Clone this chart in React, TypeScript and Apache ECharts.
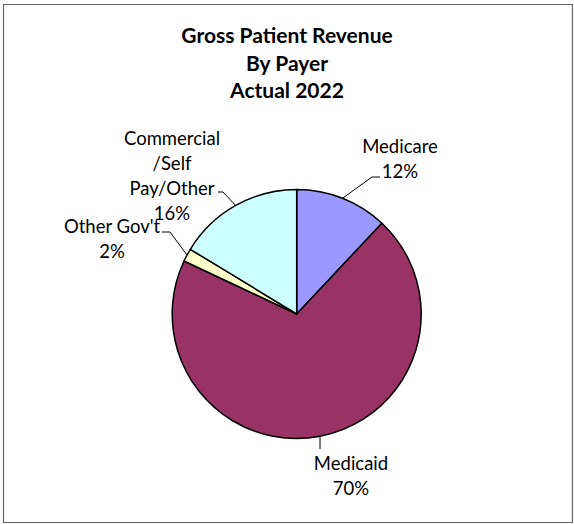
import React, { useEffect, useRef } from "react";
import * as echarts from "echarts";

const TITLE_LINES = ["Gross Patient Revenue", "By Payer", "Actual 2022"];
const PAYERS = ["Medicare", "Medicaid", "Other Gov't", "Commercial/Self Pay/Other"];
const PAYER_LABEL_LINES = [["Medicare"], ["Medicaid"], ["Other Gov't"], ["Commercial", "/Self", "Pay/Other"]];
const SHARES = [12.0, 70.0, 1.7, 16.3];
const COLORS = ["#9999FF", "#993366", "#FFFFCC", "#CCFFFF"];

// label placement (styling only): label block centre, leader elbow and end
const LABEL_POS = [
  { x: 400, y: 158.5, elbow: [372, 177], end: [380, 177] },
  { x: 351, y: 475, elbow: [320, 449], end: [320, 449] },
  { x: 112, y: 238.5, elbow: [170, 232], end: [162, 232] },
  { x: 172, y: 175, elbow: [223, 192], end: [218, 192] },
];

export default function App() {
  const ref = useRef<HTMLDivElement>(null);
  useEffect(() => {
    if (!ref.current) return;
    const chart = echarts.init(ref.current, null, { renderer: "svg" });
    const font = "Lato, 'Open Sans', sans-serif";
    chart.setOption({
      animation: false,
      title: {
        text: TITLE_LINES.join("\n"),
        left: "center",
        top: 21,
        padding: 0,
        textStyle: {
          fontFamily: font,
          fontWeight: "bold",
          fontSize: 21,
          lineHeight: 27.5,
          color: "#000",
        },
      },
      graphic: [
        {
          type: "rect",
          shape: { x: 3.5, y: 4.5, width: 569, height: 518 },
          style: { fill: "none", stroke: "#666", lineWidth: 1.2 },
          silent: true,
        },
      ],
      series: [
        {
          type: "pie",
          center: [296.7, 314],
          radius: 124.5,
          startAngle: 90,
          clockwise: true,
          avoidLabelOverlap: false,
          emphasis: { disabled: true },
          itemStyle: { borderColor: "#000", borderWidth: 1.5 },
          data: PAYERS.map((name, i) => ({
            name,
            value: SHARES[i],
            itemStyle: { color: COLORS[i] },
          })),
          label: {
            show: true,
            position: "outside",
            fontFamily: font,
            fontSize: 18.5,
            lineHeight: 25,
            color: "#000",
            align: "center",
            formatter: (p: any) =>
              PAYER_LABEL_LINES[p.dataIndex].join("\n") + "\n" + Math.round(p.percent) + "%",
          },
          labelLine: {
            show: true,
            length: 20,
            length2: 8,
            lineStyle: { color: "#000", width: 1 },
          },
          labelLayout: (params: any) => {
            const p = LABEL_POS[params.dataIndex];
            const start = params.labelLinePoints ? params.labelLinePoints[0] : p.elbow;
            return {
              x: p.x,
              y: p.y,
              align: "center",
              verticalAlign: "middle",
              labelLinePoints: [start, p.elbow, p.end],
            };
          },
        },
      ],
    });
    return () => chart.dispose();
  }, []);
  return (
    <div
      ref={ref}
      style={{ position: "absolute", left: 0, top: 0, width: 574, height: 524, background: "#fff" }}
    />
  );
}
